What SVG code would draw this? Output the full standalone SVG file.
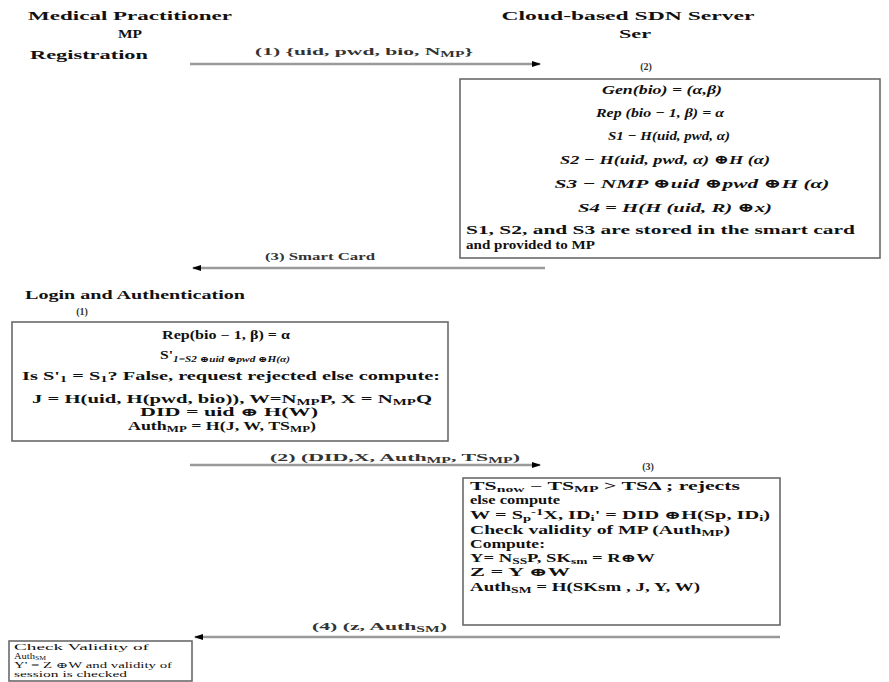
<svg xmlns="http://www.w3.org/2000/svg" width="889" height="682" viewBox="0 0 889 682">
<style>
text{font-family:"Liberation Serif","DejaVu Serif",serif;fill:#111;font-weight:bold}
.hd{font-size:13px}
.lb{font-size:10px;fill:#333}
.bi{font-size:13px;font-style:italic}
.bt{font-size:11.5px}
.bt3{font-size:11.5px}
.sm{font-size:8px;font-weight:normal}
.box{fill:#fff;stroke:#6a6a6a;stroke-width:1.6}
.ln{stroke:#9a9a9a;stroke-width:2.4;fill:none}
.sub{font-size:72%}
</style>
<defs>
<marker id="ah" markerUnits="userSpaceOnUse" markerWidth="10" markerHeight="8" refX="8" refY="4" orient="auto">
<path d="M0,1 L9,4 L0,7 Z" fill="#000"/>
</marker>
</defs>
<rect width="889" height="682" fill="#fff"/>

<g id="headers">
<text class="hd" x="130" y="20" text-anchor="middle" textLength="204" lengthAdjust="spacingAndGlyphs">Medical Practitioner</text>
<text class="hd" x="130" y="38" text-anchor="middle" textLength="24" lengthAdjust="spacingAndGlyphs">MP</text>
<text class="hd" x="30" y="59" textLength="118" lengthAdjust="spacingAndGlyphs">Registration</text>
<text class="hd" x="628" y="20" text-anchor="middle" textLength="253" lengthAdjust="spacingAndGlyphs">Cloud-based SDN Server</text>
<text class="hd" x="635" y="38" text-anchor="middle" textLength="32" lengthAdjust="spacingAndGlyphs">Ser</text>
<text class="hd" x="25" y="299" textLength="220" lengthAdjust="spacingAndGlyphs">Login and Authentication</text>
<text class="lb" x="646" y="70" text-anchor="middle">(2)</text>
<text class="lb" x="82" y="315" text-anchor="middle">(1)</text>
<text class="lb" x="648" y="470" text-anchor="middle">(3)</text>
</g>

<g id="connectors">
<line class="ln" x1="190" y1="64" x2="540" y2="64" marker-end="url(#ah)"/>
<text class="lb" x="255" y="55" textLength="218" lengthAdjust="spacingAndGlyphs">(1) {uid, pwd, bio, N<tspan class="sub" dy="2">MP</tspan><tspan dy="-2">}</tspan></text>
<line class="ln" x1="545" y1="268" x2="193" y2="268" marker-end="url(#ah)"/>
<text class="lb" x="265" y="260" textLength="110" lengthAdjust="spacingAndGlyphs">(3) Smart Card</text>
<line class="ln" x1="190" y1="465" x2="540" y2="465" marker-end="url(#ah)"/>
<text class="lb" x="270" y="461" textLength="250" lengthAdjust="spacingAndGlyphs">(2) (DID,X, Auth<tspan class="sub" dy="2">MP</tspan><tspan dy="-2">, TS</tspan><tspan class="sub" dy="2">MP</tspan><tspan dy="-2">)</tspan></text>
<line class="ln" x1="780" y1="637" x2="195" y2="637" marker-end="url(#ah)"/>
<text class="lb" x="312" y="630" textLength="135" lengthAdjust="spacingAndGlyphs">(4) (z, Auth<tspan class="sub" dy="2">SM</tspan><tspan dy="-2">)</tspan></text>
</g>

<g id="server-registration">
<rect class="box" x="460" y="79" width="420" height="179"/>
<text class="bi" x="662" y="94" text-anchor="middle" textLength="120" lengthAdjust="spacingAndGlyphs">Gen(bio) = (α,β)</text>
<text class="bi" x="660" y="117" text-anchor="middle" font-size="15" textLength="128" lengthAdjust="spacingAndGlyphs">Rep (bio − 1, β) = α</text>
<text class="bi" x="669" y="140" text-anchor="middle" font-size="15" textLength="122" lengthAdjust="spacingAndGlyphs">S1 − H(uid, pwd, α)</text>
<text class="bi" x="665" y="164" text-anchor="middle" textLength="210" lengthAdjust="spacingAndGlyphs">S2 − H(uid, pwd, α) ⊕H (α)</text>
<text class="bi" x="692" y="188" text-anchor="middle" textLength="275" lengthAdjust="spacingAndGlyphs">S3 − NMP ⊕uid ⊕pwd ⊕H (α)</text>
<text class="bi" x="675" y="212" text-anchor="middle" textLength="194" lengthAdjust="spacingAndGlyphs">S4 = H(H (uid, R) ⊕x)</text>
<text class="bt" x="466" y="234" textLength="389" lengthAdjust="spacingAndGlyphs">S1, S2, and S3 are stored in the smart card</text>
<text class="bt" x="466" y="249" textLength="129" lengthAdjust="spacingAndGlyphs">and provided to MP</text>
</g>

<g id="mp-login">
<rect class="box" x="12" y="322" width="436" height="119"/>
<text class="bt" x="226" y="339" text-anchor="middle" textLength="128" lengthAdjust="spacingAndGlyphs">Rep(bio − 1, β) = α</text>
<text class="bt" x="225" y="359" text-anchor="middle" textLength="130" lengthAdjust="spacingAndGlyphs">S'<tspan class="sub" dy="3" font-style="italic">1=S2 ⊕uid ⊕pwd ⊕H(α)</tspan></text>
<text class="bt" x="22" y="380" textLength="418" lengthAdjust="spacingAndGlyphs">Is S'<tspan class="sub" dy="2">1</tspan><tspan dy="-2"> = S</tspan><tspan class="sub" dy="2">1</tspan><tspan dy="-2">? False, request rejected else compute:</tspan></text>
<text class="bt" x="32" y="403" textLength="400" lengthAdjust="spacingAndGlyphs">J = H(uid, H(pwd, bio)), W=N<tspan class="sub" dy="2">MP</tspan><tspan dy="-2">P, X = N</tspan><tspan class="sub" dy="2">MP</tspan><tspan dy="-2">Q</tspan></text>
<text class="bt" x="229" y="416" text-anchor="middle" textLength="178" lengthAdjust="spacingAndGlyphs">DID = uid ⊕ H(W)</text>
<text class="bt" x="222" y="430" text-anchor="middle" textLength="188" lengthAdjust="spacingAndGlyphs">Auth<tspan class="sub" dy="2">MP</tspan><tspan dy="-2"> = H(J, W, TS</tspan><tspan class="sub" dy="2">MP</tspan><tspan dy="-2">)</tspan></text>
</g>

<g id="server-authentication">
<rect class="box" x="463" y="478" width="317" height="147"/>
<text class="bt3" x="470" y="490" textLength="270" lengthAdjust="spacingAndGlyphs">TS<tspan class="sub" dy="1.5">now</tspan><tspan dy="-1.5"> − TS</tspan><tspan class="sub" dy="1.5">MP</tspan><tspan dy="-1.5"> &gt; TSΔ ; rejects</tspan></text>
<text class="bt3" x="470" y="504" textLength="90" lengthAdjust="spacingAndGlyphs">else compute</text>
<text class="bt3" x="470" y="519" textLength="300" lengthAdjust="spacingAndGlyphs">W = S<tspan class="sub" dy="1.5">p</tspan><tspan class="sub" dy="-5.5">-1</tspan><tspan dy="4">X, ID</tspan><tspan class="sub" dy="1.5">i</tspan><tspan dy="-1.5">' = DID ⊕H(Sp, ID</tspan><tspan class="sub" dy="1.5">i</tspan><tspan dy="-1.5">)</tspan></text>
<text class="bt3" x="470" y="534" textLength="260" lengthAdjust="spacingAndGlyphs">Check validity of MP (Auth<tspan class="sub" dy="1.5">MP</tspan><tspan dy="-1.5">)</tspan></text>
<text class="bt3" x="470" y="548" textLength="75" lengthAdjust="spacingAndGlyphs">Compute:</text>
<text class="bt3" x="470" y="562" textLength="185" lengthAdjust="spacingAndGlyphs">Y= N<tspan class="sub" dy="1.5">SS</tspan><tspan dy="-1.5">P, SK</tspan><tspan class="sub" dy="1.5">sm</tspan><tspan dy="-1.5"> = R⊕W</tspan></text>
<text class="bt3" x="470" y="576" textLength="100" lengthAdjust="spacingAndGlyphs">Z = Y ⊕W</text>
<text class="bt3" x="470" y="591" textLength="230" lengthAdjust="spacingAndGlyphs">Auth<tspan class="sub" dy="1.5">SM</tspan><tspan dy="-1.5"> = H(SKsm , J, Y, W)</tspan></text>
</g>

<g id="mp-verification">
<rect class="box" x="9" y="641" width="183" height="40" stroke-width="1"/>
<text class="sm" x="14" y="650" textLength="135" lengthAdjust="spacingAndGlyphs">Check Validity of</text>
<text class="sm" x="14" y="659" textLength="32" lengthAdjust="spacingAndGlyphs">Auth<tspan class="sub" dy="1">SM</tspan></text>
<text class="sm" x="14" y="668" textLength="158" lengthAdjust="spacingAndGlyphs">Y' = Z ⊕W and validity of</text>
<text class="sm" x="14" y="677" textLength="113" lengthAdjust="spacingAndGlyphs">session is checked</text>
</g>
</svg>
